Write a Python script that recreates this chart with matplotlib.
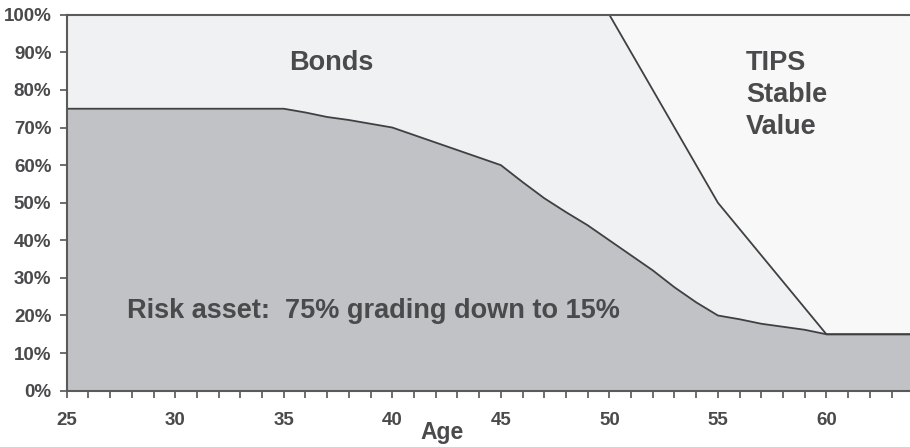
import matplotlib
matplotlib.use("Agg")
import matplotlib.pyplot as plt
import numpy as np

ages = [25, 35, 36, 37, 38, 39, 40, 41, 42, 43, 44, 45, 46, 47, 48, 49, 50,
        51, 52, 53, 54, 55, 56, 57, 58, 59, 60, 61, 62, 63, 64]
risk = [75, 75, 74, 72.8, 72, 71, 70, 68, 66, 64, 62, 60, 55.5, 51.2, 47.5, 44, 40,
        36, 32, 27.5, 23.5, 20, 19, 17.8, 17, 16.2, 15, 15, 15, 15, 15]
risk_plus_bonds = [100, 100, 100, 100, 100, 100, 100, 100, 100, 100, 100, 100, 100, 100, 100, 100, 100,
                   90, 80, 70, 60, 50, 43, 36, 29, 22, 15, 15, 15, 15, 15]
yticks = [0, 10, 20, 30, 40, 50, 60, 70, 80, 90, 100]
xticks = [25, 30, 35, 40, 45, 50, 55, 60]

plt.rcParams['font.family'] = ['Liberation Sans', 'DejaVu Sans']
txt = '#4a4a4c'
line = '#404042'

fig = plt.figure(figsize=(9.1, 4.47), dpi=100)
ax = fig.add_axes([0.0733, 0.126, 0.9267, 0.841])

ax.fill_between(ages, risk_plus_bonds, 100, color='#f8f8f8', lw=0)
ax.fill_between(ages, risk, risk_plus_bonds, color='#f0f1f3', lw=0)
ax.fill_between(ages, 0, risk, color='#c1c2c6', lw=0)
ax.plot(ages, risk, color=line, lw=1.3)
ages_b = [a for a, v in zip(ages, risk_plus_bonds) if a >= 50]
vals_b = [v for a, v in zip(ages, risk_plus_bonds) if a >= 50]
ax.plot(ages_b, vals_b, color=line, lw=1.3)

ax.set_xlim(25, 63.85)
ax.set_ylim(0, 100)
ax.set_xticks(xticks)
ax.set_xticks(np.arange(25, 64, 1), minor=True)
ax.set_yticks(yticks)
ax.set_xticklabels([str(v) for v in xticks], fontsize=13.5, fontweight='bold', color=txt)
ax.set_yticklabels([f"{v}%" for v in yticks], fontsize=13.5, fontweight='bold', color=txt)
ax.tick_params(axis='both', which='major', direction='out', length=5, width=1.2,
               color='#555555')
ax.tick_params(axis='x', which='minor', direction='out', length=5, width=1.2, color='#555555')
ax.tick_params(axis='x', which='major', pad=10)
ax.tick_params(axis='y', which='major', pad=6)

for s in ['left', 'bottom', 'top']:
    ax.spines[s].set_color('#5a5a5a')
    ax.spines[s].set_linewidth(1.5)
ax.spines['right'].set_visible(False)

fig.text(442 / 910, 1 - 433 / 447, 'Age', fontsize=16.5, fontweight='bold', color=txt,
         ha='center', va='center')

ax.text(37.2, 87.2, 'Bonds', fontsize=19.5, fontweight='bold', color=txt, ha='center', va='center')
ax.text(56.3, 90.5, 'TIPS\nStable\nValue', fontsize=19.5, fontweight='bold', color=txt,
        ha='left', va='top', linespacing=1.28)
ax.text(27.8, 21.3, 'Risk asset:  75% grading down to 15%', fontsize=19.5, fontweight='bold',
        color=txt, ha='left', va='center')

fig.savefig('out.png', dpi=100)
